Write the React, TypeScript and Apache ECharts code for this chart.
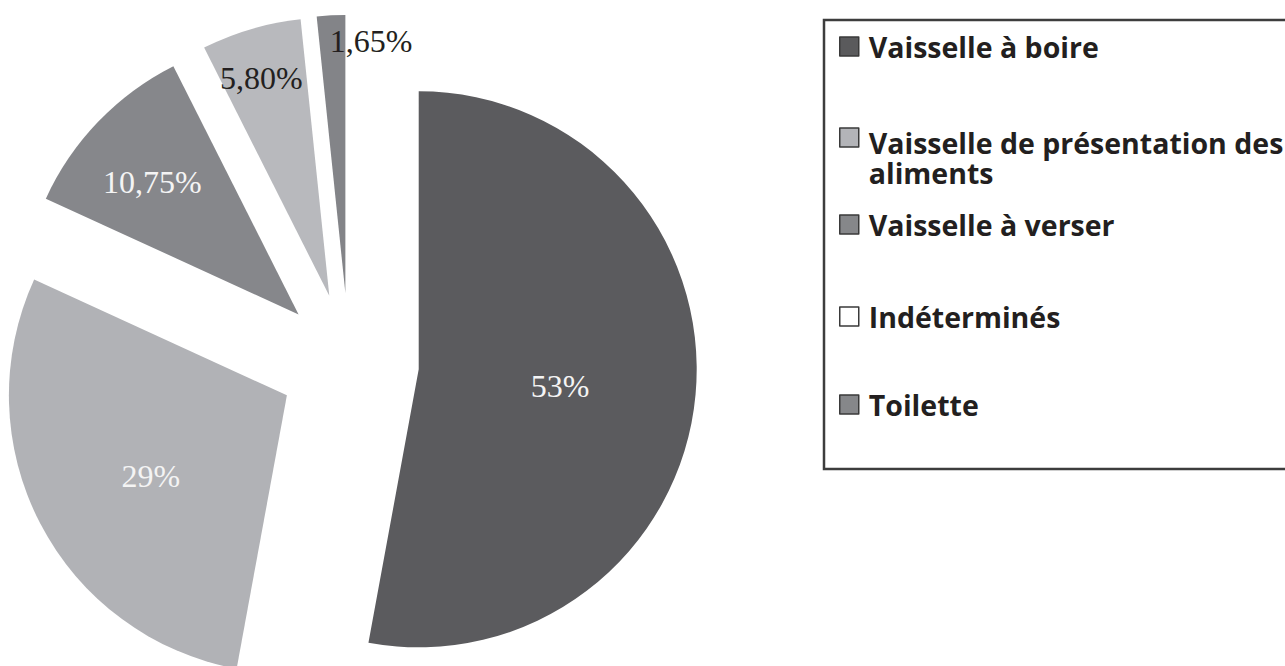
import React, { useEffect, useRef } from "react";
import * as echarts from "echarts";

// ---- data ----
const categories = [
  "Vaisselle à boire",
  "Vaisselle de présentation des\naliments",
  "Vaisselle à verser",
  "Indéterminés",
  "Toilette",
];
const values = [53, 29, 10.75, 5.8, 1.65];

// ---- styles ----
const sliceColors = ["#5b5b5e", "#b1b2b6", "#86878b", "#b8b9bd", "#838488"];
const legendIconColors = ["#5a5a5c", "#b3b4b8", "#86878a", "#ffffff", "#86878a"];
const labelColors = ["#f4f4f4", "#f4f4f4", "#f4f4f4", "#231f20", "#231f20"];
const labelOffsets = [
  [0, 4],
  [-10, 15],
  [-44, -34],
  [-28, -82],
  [33, -110],
];
const legendTops = [32, 87, 210, 302, 390];
const legendPadLine = [0, 41, 0, 0, 0];

function formatPct(v: number): string {
  if (Number.isInteger(v)) return `${v}%`;
  return `${v.toFixed(2).replace(".", ",")}%`;
}

export default function App() {
  const ref = useRef<HTMLDivElement>(null);

  useEffect(() => {
    document.body.style.margin = "0";
    if (!ref.current) return;
    const chart = echarts.init(ref.current, null, { renderer: "svg" });

    const legends = categories.map((name, i) => ({
      left: 839,
      top: legendTops[i],
      orient: "vertical" as const,
      padding: 0,
      itemGap: 0,
      itemWidth: 19,
      itemHeight: 19,
      icon: "rect",
      selectedMode: false,
      itemStyle: { borderColor: "#3a3a3a", borderWidth: 1.5 },
      formatter: (n: string) => {
        const lines = n.split("\n").map((l) => `{t|${l}}`).join("\n");
        return legendPadLine[i] > 0 ? `{pad| }\n${lines}` : lines;
      },
      textStyle: {
        rich: {
          t: {
            fontFamily: "'Open Sans', sans-serif",
            fontWeight: "bold",
            fontSize: 28.5,
            lineHeight: 30,
            color: "#231f20",
            padding: [0, 0, 0, 5],
          },
          pad: {
            fontSize: 1,
            lineHeight: legendPadLine[i] || 1,
            height: legendPadLine[i] || 1,
          },
        },
      },
      data: [
        {
          name,
          itemStyle: { color: legendIconColors[i], borderColor: "#3a3a3a", borderWidth: 1.5 },
        },
      ],
    }));

    chart.setOption({
      animation: false,
      backgroundColor: "#ffffff",
      legend: legends,
      graphic: [
        {
          type: "rect",
          z: 0,
          shape: { x: 824, y: 20, width: 520, height: 449 },
          style: { fill: "none", stroke: "#3d3d3d", lineWidth: 2.5 },
          silent: true,
        },
      ],
      series: [
        {
          type: "pie",
          center: [349, 363],
          radius: 278,
          startAngle: 90,
          clockwise: true,
          selectedMode: "multiple",
          selectedOffset: 70,
          avoidLabelOverlap: false,
          emphasis: { disabled: true },
          label: {
            show: true,
            position: "inside",
            fontFamily: "'Liberation Serif', 'Times New Roman', serif",
            fontSize: 32,
            formatter: (p: any) => formatPct(p.value),
          },
          labelLine: { show: false },
          labelLayout: (p: any) => ({
            dx: labelOffsets[p.dataIndex][0],
            dy: labelOffsets[p.dataIndex][1],
          }),
          data: categories.map((name, i) => ({
            name,
            value: values[i],
            selected: true,
            itemStyle: { color: sliceColors[i], borderWidth: 0 },
            label: { color: labelColors[i] },
            select: {
              itemStyle: { color: sliceColors[i], borderWidth: 0 },
              label: { color: labelColors[i] },
            },
          })),
        },
      ],
    });

    return () => chart.dispose();
  }, []);

  return <div ref={ref} style={{ width: 1285, height: 666 }} />;
}
